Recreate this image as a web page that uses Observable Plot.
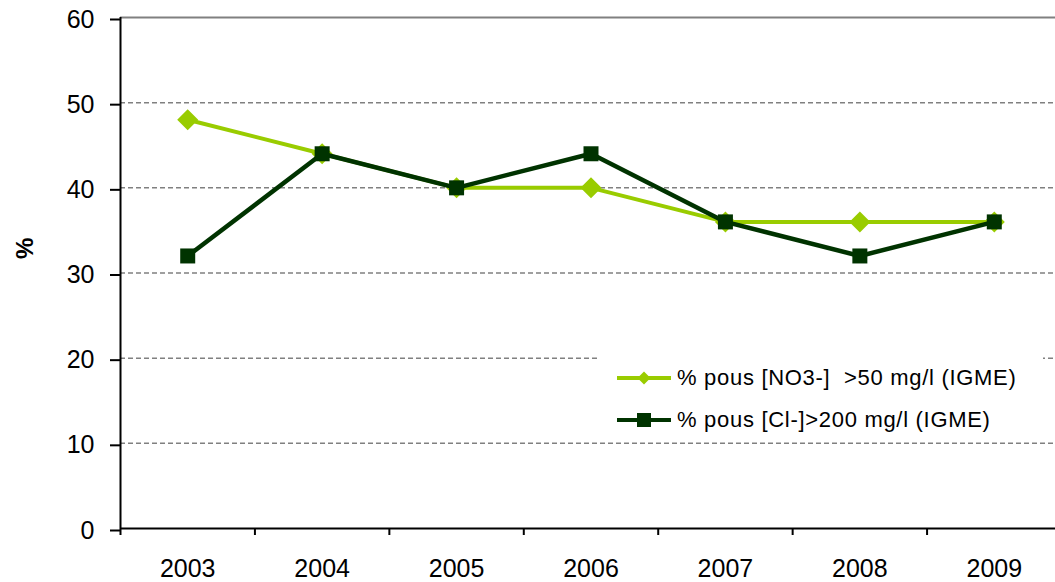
<!DOCTYPE html>
<html>
<head>
<meta charset="utf-8">
<script src="https://cdn.jsdelivr.net/npm/d3@7"></script>
<script src="https://cdn.jsdelivr.net/npm/@observablehq/plot@0.6"></script>
<style>
  html, body { margin: 0; padding: 0; background: #fff; }
  #wrap { position: relative; width: 1055px; height: 582px; overflow: hidden; font-family: "Liberation Sans", Arial, sans-serif; }
  #legend { position: absolute; left: 597px; top: 357px; width: 446px; height: 84px; background: #fff; }
  .row { position: absolute; left: 0; height: 30px; display: flex; align-items: center; }
  .row svg { margin-left: 20px; margin-right: 6px; }
  .row span { font-size: 22px; color: #000; white-space: pre; letter-spacing: 0.7px; }
</style>
</head>
<body>
<div id="wrap"></div>
<script>
const years = [2003, 2004, 2005, 2006, 2007, 2008, 2009];
const no3 = [48, 44, 40, 40, 36, 36, 36];
const cl = [32, 44, 40, 44, 36, 32, 36];
const yTicks = [0, 10, 20, 30, 40, 50, 60];
const seriesNames = ["% pous [NO3-]  >50 mg/l (IGME)", "% pous [Cl-]>200 mg/l (IGME)"];
const seriesColors = ["#99CC00", "#003300"];
const yLabel = "%";

const boundaries = years.map(y => y - 0.5).concat([years[years.length - 1] + 0.5]);
const dataNO3 = years.map((y, i) => ({year: y, value: no3[i]}));
const dataCl = years.map((y, i) => ({year: y, value: cl[i]}));

const diamond = {draw(ctx) { const h = 10.5; ctx.moveTo(0, -h); ctx.lineTo(h, 0); ctx.lineTo(0, h); ctx.lineTo(-h, 0); ctx.closePath(); }};
const square = {draw(ctx) { const h = 7.5; ctx.moveTo(-h, -h); ctx.lineTo(h, -h); ctx.lineTo(h, h); ctx.lineTo(-h, h); ctx.closePath(); }};

const chart = Plot.plot({
  width: 1055,
  height: 582,
  marginLeft: 120,
  marginRight: -6,
  marginTop: 17,
  marginBottom: 54,
  style: {fontFamily: "'Liberation Sans', Arial, sans-serif", fontSize: "25px", color: "#000", background: "#fff"},
  x: {domain: [boundaries[0], boundaries[boundaries.length - 1]]},
  y: {domain: [0, 60]},
  marks: [
    Plot.ruleY(yTicks.filter(d => d > 0 && d < 60), {stroke: "#808080", strokeWidth: 1.5, strokeDasharray: "5,3"}),
    Plot.ruleY([60], {stroke: "#808080", strokeWidth: 2}),
    Plot.axisY({ticks: yTicks, tickSize: 10, tickPadding: 16, tickFormat: d => String(d), dy: 2, strokeWidth: 2, stroke: "#000", label: null, fontSize: 25, style: {letterSpacing: "0.6px"}}),
    Plot.text([yLabel], {frameAnchor: "left", dx: -95, dy: -14, rotate: -90, fontWeight: "bold", fontSize: 24}),
    Plot.axisX({ticks: boundaries, tickSize: 7, tickFormat: () => "", strokeWidth: 2, stroke: "#000", label: null}),
    Plot.axisX({ticks: years, tickSize: 0, tickPadding: 31, tickFormat: d => String(d), label: null, fontSize: 25, style: {letterSpacing: "0.6px"}}),
    Plot.ruleX([boundaries[0]], {y1: 0, y2: 60, stroke: "#000", strokeWidth: 2}),
    Plot.ruleY([0], {stroke: "#000", strokeWidth: 2}),
    Plot.line(dataNO3, {x: "year", y: "value", stroke: seriesColors[0], strokeWidth: 4}),
    Plot.dot(dataNO3, {x: "year", y: "value", symbol: diamond, fill: seriesColors[0], stroke: "none", r: 10}),
    Plot.line(dataCl, {x: "year", y: "value", stroke: seriesColors[1], strokeWidth: 4.5}),
    Plot.dot(dataCl, {x: "year", y: "value", symbol: square, fill: seriesColors[1], stroke: "none", r: 8})
  ]
});

const wrap = document.getElementById("wrap");
wrap.appendChild(chart);

const legend = document.createElement("div");
legend.id = "legend";
const swatchShapes = [
  c => `<path d="M27,0.5 L33.5,7 L27,13.5 L20.5,7 Z" fill="${c}"/>`,
  c => `<rect x="20" y="0" width="14" height="14" fill="${c}"/>`
];
seriesNames.forEach((name, i) => {
  const row = document.createElement("div");
  row.className = "row";
  row.style.top = (i === 0 ? 6 : 48) + "px";
  row.innerHTML = `<svg width="54" height="14" viewBox="0 0 54 14"><line x1="0" x2="54" y1="7" y2="7" stroke="${seriesColors[i]}" stroke-width="4"/>${swatchShapes[i](seriesColors[i])}</svg><span>${name}</span>`;
  legend.appendChild(row);
});
wrap.appendChild(legend);
</script>
</body>
</html>
